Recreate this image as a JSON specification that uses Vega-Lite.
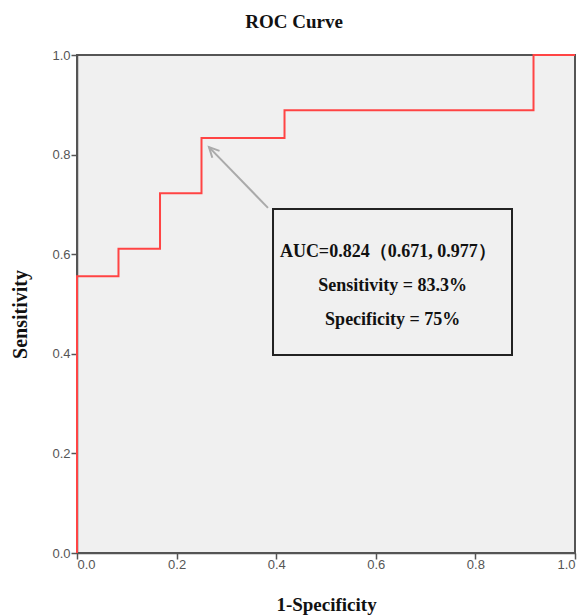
{
  "$schema": "https://vega.github.io/schema/vega-lite/v6.json",
  "width": 498,
  "height": 498,
  "autosize": "none",
  "padding": {"left": 77, "top": 55, "right": 6, "bottom": 62},
  "background": "white",
  "title": {
    "text": "ROC Curve",
    "font": "Liberation Serif",
    "fontSize": 19,
    "fontWeight": "bold",
    "color": "#111",
    "anchor": "middle",
    "baseline": "middle",
    "offset": 8,
    "dx": -32
  },
  "config": {
    "view": {"stroke": "#555", "strokeWidth": 2, "fill": "#f0f0f0"},
    "axis": {
      "grid": false,
      "domainColor": "#555",
      "domainWidth": 1.5,
      "tickColor": "#555",
      "tickWidth": 1.5,
      "tickSize": 6,
      "labelFont": "Liberation Sans",
      "labelFontSize": 13,
      "labelColor": "#555",
      "titleFont": "Liberation Serif",
      "titleFontWeight": "bold",
      "titleColor": "#111"
    }
  },
  "layer": [
    {
      "data": {"values": [
        {"fpr": 0.0, "tpr": 0.0},
        {"fpr": 0.0, "tpr": 0.5556},
        {"fpr": 0.0833, "tpr": 0.6111},
        {"fpr": 0.1667, "tpr": 0.7222},
        {"fpr": 0.25, "tpr": 0.8333},
        {"fpr": 0.4167, "tpr": 0.8889},
        {"fpr": 0.9167, "tpr": 1.0},
        {"fpr": 1.0, "tpr": 1.0}
      ]},
      "mark": {"type": "line", "interpolate": "step-after", "color": "#ff4444", "strokeWidth": 2, "clip": false},
      "encoding": {
        "x": {
          "field": "fpr", "type": "quantitative",
          "scale": {"domain": [0, 1], "nice": false},
          "axis": {"values": [0, 0.2, 0.4, 0.6, 0.8, 1.0], "format": ".1f", "title": "1-Specificity",
                   "titleFontSize": 19, "titleY": 51, "titleBaseline": "middle", "labelPadding": -1}
        },
        "y": {
          "field": "tpr", "type": "quantitative",
          "scale": {"domain": [0, 1], "nice": false},
          "axis": {"values": [0, 0.2, 0.4, 0.6, 0.8, 1.0], "format": ".1f", "title": "Sensitivity",
                   "titleFontSize": 20, "titleX": -57, "titleY": 259, "titleAngle": -90, "titleAlign": "center", "titleBaseline": "middle", "labelPadding": 1}
        },
        "order": {"field": "fpr"}
      }
    },
    {
      "data": {"values": [{"x1": 0.3835, "y1": 0.693, "x2": 0.265, "y2": 0.815}]},
      "mark": {"type": "rule", "color": "#aaaaaa", "strokeWidth": 2},
      "encoding": {
        "x": {"field": "x1", "type": "quantitative"},
        "y": {"field": "y1", "type": "quantitative"},
        "x2": {"field": "x2"},
        "y2": {"field": "y2"}
      }
    },
    {
      "data": {"values": [{"x": 0.265, "y": 0.815}]},
      "mark": {"type": "point", "shape": "M-0.5,1L0,0L0.5,1", "size": 400, "angle": -44, "filled": false, "stroke": "#aaaaaa", "strokeWidth": 2, "opacity": 1},
      "encoding": {
        "x": {"field": "x", "type": "quantitative"},
        "y": {"field": "y", "type": "quantitative"}
      }
    },
    {
      "data": {"values": [{"x": 0.3936, "x2": 0.8735, "y": 0.6908, "y2": 0.3976}]},
      "mark": {"type": "rect", "fill": "#f0f0f0", "stroke": "#222", "strokeWidth": 2},
      "encoding": {
        "x": {"field": "x", "type": "quantitative"},
        "x2": {"field": "x2"},
        "y": {"field": "y", "type": "quantitative"},
        "y2": {"field": "y2"}
      }
    },
    {
      "data": {"values": [
        {"label": "AUC=0.824（0.671, 0.977）", "x": 0.624, "y": 0.604},
        {"label": "Sensitivity = 83.3%", "x": 0.634, "y": 0.537},
        {"label": "Specificity = 75%", "x": 0.634, "y": 0.467}
      ]},
      "mark": {"type": "text", "font": "Liberation Serif", "fontWeight": "bold", "fontSize": 18, "color": "#111", "align": "center", "baseline": "middle"},
      "encoding": {
        "x": {"field": "x", "type": "quantitative"},
        "y": {"field": "y", "type": "quantitative"},
        "text": {"field": "label"}
      }
    }
  ]
}
